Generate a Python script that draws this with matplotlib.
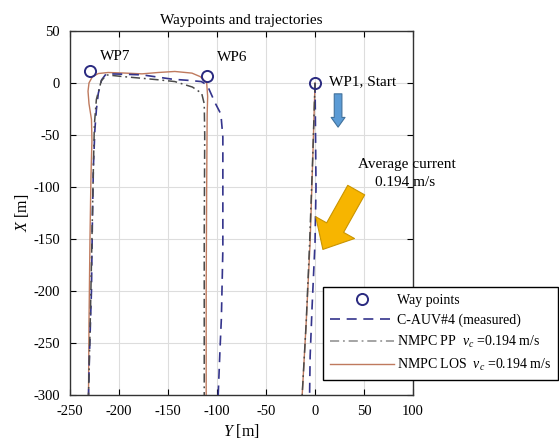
import numpy as np
import matplotlib
matplotlib.use('Agg')
import matplotlib.pyplot as plt

plt.rcParams['font.family'] = 'Liberation Serif'
plt.rcParams['mathtext.fontset'] = 'custom'
plt.rcParams['mathtext.rm'] = 'Liberation Serif'
plt.rcParams['mathtext.it'] = 'Liberation Serif:italic'
plt.rcParams['axes.unicode_minus'] = False

# waypoints (Y east, X north)
wp_y = [0, -110, -229]
wp_x = [0, 7, 11.5]

# measured C-AUV#4
auv_y = [0, 0.5, 1, 0, -3, -5, -6, -100, -97, -95.5, -94, -94, -96, -102, -110, -116, -130, -145, -176, -200, -213, -217.6, -221, -223, -224.5, -226, -227, -228, -230, -231, -231]
auv_x = [0, -50, -100, -153, -215, -263, -330, -330, -258, -226, -160, -52, -30, -19, -2, 1.3, 2.5, 3.5, 7.7, 8.5, 8.7, 3, -10, -26, -45, -80, -130, -200, -260, -300, -330]

# NMPC PP
pp_y = [0, -2.5, -5.5, -9, -13, -14, -113, -113, -113, -112.5, -113, -115.6, -125, -143, -160, -177, -195, -212.5, -218, -223, -225, -226, -227.5, -229, -231, -231]
pp_x = [0, -75, -153, -230, -298, -330, -330, -250, -150, -50, -20, -10, -4, 1.3, 3, 4.5, 6, 7.7, 2, -16, -40, -80, -150, -220, -300, -330]

# NMPC LOS
los_y = [0, -2.4, -5, -9, -13, -14, -111, -111, -110.5, -110, -109.5, -110.5, -117, -125.5, -143, -160, -176.5, -195, -211, -221, -227, -230.5, -231.5, -230.5, -228, -227.5, -228.5, -229.5, -230.5, -231, -231]
los_x = [0, -75, -153, -230, -298, -330, -330, -200, -100, -30, -13, 0, 6, 9.4, 11, 10, 8.7, 9.5, 10, 9, 6, 0, -8, -20, -35, -55, -90, -150, -230, -300, -330]

fig = plt.figure(figsize=(5.59, 4.41), dpi=100)
ax = fig.add_axes([0.125, 0.104, 0.614, 0.826])

ax.plot(auv_y, auv_x, color='#34348c', ls=(0, (6, 4)), lw=1.2, label='C-AUV#4 (measured)', zorder=3)
ax.plot(pp_y, pp_x, color='#4a4a4a', ls=(0, (6, 2.5, 1.2, 2.5)), lw=1.1, label=r'NMPC PP  $v_c$ =0.194 m/s', zorder=4)
ax.plot(los_y, los_x, color='#bf7a5e', lw=1.0, label=r'NMPC LOS  $v_c$ =0.194 m/s', zorder=2)
ax.plot(wp_y, wp_x, 'o', mfc='none', mec='#2a2a80', mew=1.4, ms=8, ls='none', label='Way points', zorder=5)

ax.text(-219, 25, 'WP7', fontsize=11, va='center')
ax.text(-100, 24, 'WP6', fontsize=11, va='center')
ax.text(14, 1, 'WP1, Start', fontsize=11, va='center')
ax.text(94, -78, 'Average current', fontsize=11, ha='center', va='center')
ax.text(92, -96, '0.194 m/s', fontsize=11, ha='center', va='center')

ax.annotate('', xy=(23.5, -42.5), xytext=(23.5, -10.5),
            arrowprops=dict(arrowstyle='simple,head_length=0.7,head_width=1.0,tail_width=0.55',
                            mutation_scale=10, fc='#5b9bd5', ec='#41719c', lw=0.8,
                            shrinkA=0, shrinkB=0))
ax.annotate('', xy=(8, -160), xytext=(42, -103),
            arrowprops=dict(arrowstyle='simple,head_length=1.8,head_width=3.2,tail_width=1.4',
                            mutation_scale=10, fc='#f7b500', ec='#c99400', lw=0.8,
                            shrinkA=0, shrinkB=0))

ax.set_xlim(-250, 100)
ax.set_ylim(-300, 50)
ax.set_xticks(np.arange(-250, 101, 50))
ax.set_yticks(np.arange(-300, 51, 50))
ax.tick_params(direction='in', top=True, right=True, labelsize=10.5, length=4, pad=7)
ax.grid(True, color='#dddddd', lw=0.8)
ax.set_axisbelow(True)
for s in ax.spines.values():
    s.set_linewidth(1.0)
    s.set_color('#333333')

ax.set_title('Waypoints and trajectories', fontsize=11, pad=5)
ax.set_xlabel(r'$Y$ [m]', fontsize=11.5, labelpad=3)
ax.set_ylabel(r'$X$ [m]', fontsize=11.5, labelpad=2)

h, l = ax.get_legend_handles_labels()
order = [3, 0, 1, 2]
leg = ax.legend([h[i] for i in order], [l[i] for i in order], loc='upper left',
                bbox_to_anchor=(323 / 559, 1 - 287 / 441), bbox_transform=fig.transFigure,
                fontsize=10, handlelength=4.6, labelspacing=0.48, borderaxespad=0,
                fancybox=False, framealpha=1, edgecolor='black', handletextpad=0.2,
                borderpad=0.5)
leg.get_frame().set_linewidth(1.0)
leg.legend_handles[2].set_color('#8c8c8c')

fig.savefig('out.png', dpi=100)
